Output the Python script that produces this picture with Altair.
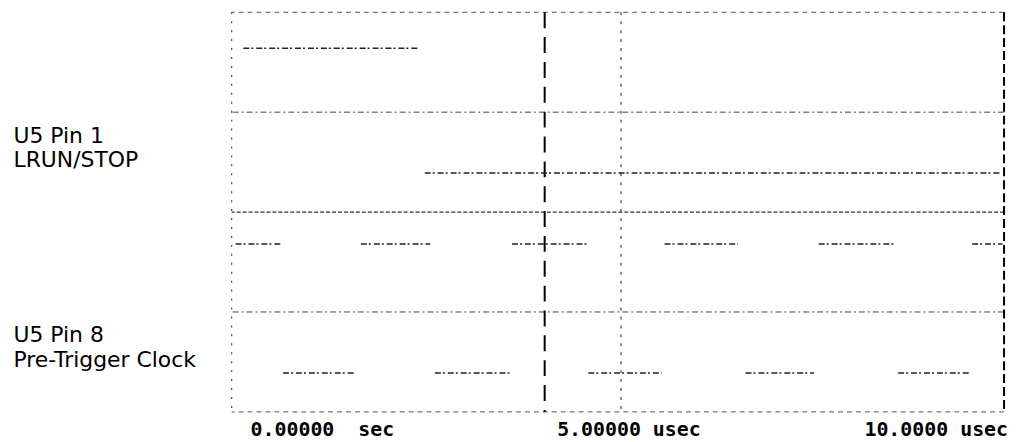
import altair as alt
import pandas as pd

# ---- time axis (usec) ----
x_domain = [0, 9.92]
label_times = [0, 5, 9.92]
time_labels = ["0.00000\u00a0\u00a0sec", "5.00000 usec", "10.0000 usec"]

# ---- channel labels (display rows 0..4) ----
y_domain = [0, 4]
channel_names = [["U5 Pin 1", "LRUN/STOP"], ["U5 Pin 8", "Pre-Trigger Clock"]]
channel_label_pos = [2.77, 0.77]

# ---- LRUN/STOP trace segments ----
run_start = [0.15, 2.48]
run_end = [2.39, 9.86]
run_level = [3.64, 2.39]

# ---- Pre-Trigger Clock trace segments ----
clk_start = [0.05, 0.66, 1.66, 2.61, 3.60, 4.58, 5.56, 6.60, 7.54, 8.56, 9.51]
clk_end = [0.63, 1.58, 2.55, 3.58, 4.56, 5.52, 6.50, 7.48, 8.52, 9.48, 9.90]
clk_level = [1.68, 0.39, 1.68, 0.39, 1.68, 0.39, 1.68, 0.39, 1.68, 0.39, 1.68]

# ---- graticule ----
grid_rows = [1, 3]
divider_row = [2]
frame_rows = [0, 4]
left_edge = [0]
center_time = [5]
right_edge = [9.92]
cursor_time = [4.02]

# ---- build tables ----
traces = pd.DataFrame({
    "t": run_start + clk_start,
    "t2": run_end + clk_end,
    "y": run_level + clk_level,
})

xscale = alt.Scale(domain=x_domain, nice=False, zero=False)
yscale = alt.Scale(domain=y_domain, nice=False, zero=False)

label_expr_y = (
    f"datum.value > 2 ? ['{channel_names[0][0]}', '{channel_names[0][1]}'] : "
    f"['{channel_names[1][0]}', '{channel_names[1][1]}']"
)
yaxis = alt.Axis(
    values=channel_label_pos, labelExpr=label_expr_y, labelAlign="left",
    labelBaseline="middle", labelPadding=220, labelFont="DejaVu Sans",
    labelFontSize=22, labelLineHeight=25, labelColor="#000000", labelLimit=400,
    labelOverlap=False, ticks=False, domain=False, grid=False, title=None,
)

X = alt.X("t:Q", scale=xscale, axis=None)
Y = alt.Y("y:Q", scale=yscale, axis=yaxis)

hgrid = alt.Chart(pd.DataFrame({"y": grid_rows})).mark_rule(
    color="#444444", strokeWidth=1, strokeDash=[6, 3, 2, 3]
).encode(y=Y)

divider = alt.Chart(pd.DataFrame({"y": divider_row})).mark_rule(
    color="#333333", strokeWidth=1.3, strokeDash=[4, 2]
).encode(y=Y)

frame = alt.Chart(pd.DataFrame({"y": frame_rows})).mark_rule(
    color="#555555", strokeWidth=1, strokeDash=[5, 4]
).encode(y=Y)

leftv = alt.Chart(pd.DataFrame({"t": left_edge})).mark_rule(
    color="#444444", strokeWidth=1.2, strokeDash=[2, 7]
).encode(x=X)

centerv = alt.Chart(pd.DataFrame({"t": center_time})).mark_rule(
    color="#444444", strokeWidth=1.2, strokeDash=[3, 6]
).encode(x=X)

rightv = alt.Chart(pd.DataFrame({"t": right_edge})).mark_rule(
    color="#000000", strokeWidth=2, strokeDash=[9, 4]
).encode(x=X)

cursor = alt.Chart(pd.DataFrame({"t": cursor_time})).mark_rule(
    color="#000000", strokeWidth=2, strokeDash=[16, 9]
).encode(x=X)

trace_layer = alt.Chart(traces).mark_rule(
    color="#222222", strokeWidth=1.5, strokeDash=[6, 2, 2, 3]
).encode(x=X, x2="t2:Q", y=Y)

# bottom time labels: left, centre and right of the screen
label_style = dict(font="DejaVu Sans Mono", fontWeight="bold", fontSize=20,
                   color="#000000", baseline="middle")
lab_df = pd.DataFrame({"t": label_times, "label": time_labels})
lab_left = alt.Chart(lab_df.iloc[[0]]).mark_text(align="left", dx=19, **label_style).encode(
    x=X, y=alt.value(420), text="label:N")
lab_mid = alt.Chart(lab_df.iloc[[1]]).mark_text(align="center", dx=8, **label_style).encode(
    x=X, y=alt.value(420), text="label:N")
lab_right = alt.Chart(lab_df.iloc[[2]]).mark_text(align="right", dx=4, **label_style).encode(
    x=X, y=alt.value(420), text="label:N")

chart = alt.layer(
    hgrid, divider, frame, leftv, centerv, rightv, cursor, trace_layer,
    lab_left, lab_mid, lab_right,
).properties(
    width=777, height=402,
    padding={"left": 5, "top": 2, "right": 5, "bottom": 0},
    background="#ffffff",
).configure_view(strokeWidth=0)

chart.save("out.html", embed_options={"renderer": "svg", "actions": False})
